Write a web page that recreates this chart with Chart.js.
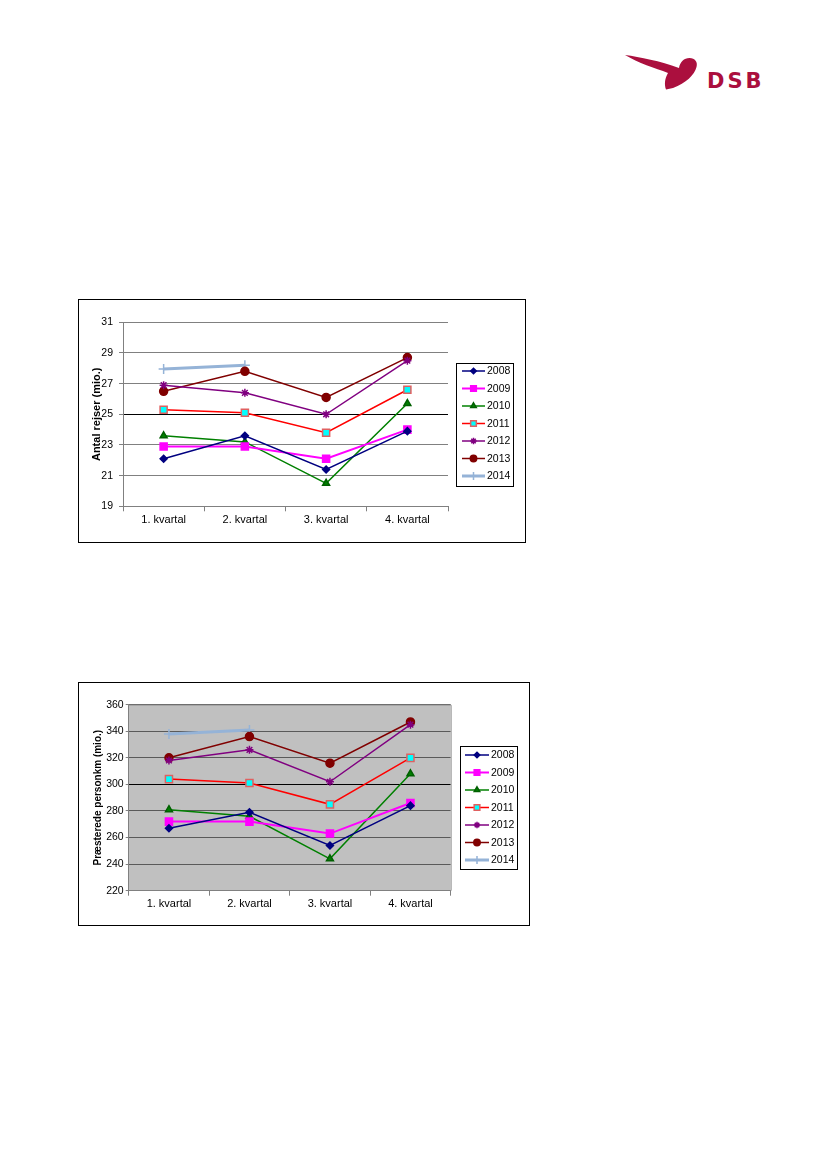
<!DOCTYPE html>
<html>
<head>
<meta charset="utf-8">
<script src="https://cdn.jsdelivr.net/npm/chart.js@4/dist/chart.umd.min.js"></script>
<style>
  body { margin: 0; background: #fff; }
  .page { position: relative; width: 827px; height: 1170px; overflow: hidden; }
  .box { position: absolute; border: 1px solid #000; box-sizing: border-box; background: #fff; }
  .logo-text { position: absolute; left: 707px; top: 69px; font: bold 21px "DejaVu Sans"; letter-spacing: 3px; color: #ab0f3e; }
</style>
</head>
<body>
<div class="page">
  <svg width="827" height="120" style="position:absolute;left:0;top:0">
    <path d="M625,55 C640,57 660,61 679,68 C680,62 684,58 689.5,58 C695,58 698,62 696.5,67 C694.5,75 686,83 673,88 L666,89.5 C664,84 665,78 668,73 C655,68 638,63 625,55 Z" fill="#ab0f3e"/>
  </svg>
  <div class="logo-text">DSB</div>

  <div class="box" style="left:78px;top:299px;width:448px;height:244px">
    <canvas id="rejserChart"></canvas>
  </div>
  <div class="box" style="left:78px;top:682px;width:452px;height:244px">
    <canvas id="personkmChart"></canvas>
  </div>
</div>

<script>
  // Kategorier og år
  const quarters = ['1. kvartal', '2. kvartal', '3. kvartal', '4. kvartal'];
  const years = ['2008', '2009', '2010', '2011', '2012', '2013', '2014'];

  // Antal rejser (mio.)
  const rejser2008 = [22.1, 23.6, 21.4, 23.9];
  const rejser2009 = [22.9, 22.9, 22.1, 24.0];
  const rejser2010 = [23.6, 23.2, 20.5, 25.7];
  const rejser2011 = [25.3, 25.1, 23.8, 26.6];
  const rejser2012 = [26.9, 26.4, 25.0, 28.5];
  const rejser2013 = [26.5, 27.8, 26.1, 28.7];
  const rejser2014 = [27.95, 28.2, null, null];
  const rejserTicks = [19, 21, 23, 25, 27, 29, 31];

  // Præsterede personkm (mio.)
  const pkm2008 = [267, 279, 254, 284];
  const pkm2009 = [272, 272, 263, 286];
  const pkm2010 = [281, 276, 244, 308];
  const pkm2011 = [304, 301, 285, 320];
  const pkm2012 = [318, 326, 302, 345];
  const pkm2013 = [320, 336, 316, 347];
  const pkm2014 = [338, 341, null, null];
  const pkmTicks = [220, 240, 260, 280, 300, 320, 340, 360];

  // Udseende pr. år
  const looks = [
    { line: '#000080', fill: '#000080', edge: '#000080', style: 'rectRot', r: 3.5, w: 1.5 },
    { line: '#ff00ff', fill: '#ff00ff', edge: '#ff00ff', style: 'rect', r: 5, w: 2 },
    { line: '#008000', fill: '#008000', edge: '#006000', style: 'triangle', r: 4, w: 1.5 },
    { line: '#ff0000', fill: '#00ffff', edge: '#e06060', style: 'rect', r: 5, w: 1.5 },
    { line: '#800080', fill: '#800080', edge: '#800080', style: 'star', r: 4, w: 1.5 },
    { line: '#800000', fill: '#800000', edge: '#800000', style: 'circle', r: 4, w: 1.5 },
    { line: '#95b3d7', fill: '#95b3d7', edge: '#95b3d7', style: 'cross', r: 5, w: 3 }
  ];

  function makeDatasets(series) {
    return series.map((values, i) => ({
      label: years[i],
      data: values,
      borderColor: looks[i].line,
      borderWidth: looks[i].w,
      pointStyle: looks[i].style,
      pointRadius: looks[i].r,
      pointBackgroundColor: looks[i].fill,
      pointBorderColor: looks[i].edge,
      pointBorderWidth: 1.5,
      tension: 0,
      fill: false
    }));
  }

  // Legende med ramme, streg og markør
  const boxLegend = {
    id: 'boxLegend',
    afterDraw(chart, args, o) {
      const ctx = chart.ctx;
      ctx.save();
      ctx.strokeStyle = '#000';
      ctx.lineWidth = 1;
      ctx.strokeRect(o.left + 0.5, o.top + 0.5, o.width, o.height);
      ctx.font = '10.5px "Liberation Sans"';
      ctx.textBaseline = 'middle';
      chart.data.datasets.forEach((ds, i) => {
        const y = o.firstRow + i * o.rowStep;
        ctx.strokeStyle = ds.borderColor;
        ctx.lineWidth = ds.borderWidth;
        ctx.beginPath();
        ctx.moveTo(o.lineFrom, y);
        ctx.lineTo(o.lineTo, y);
        ctx.stroke();
        ctx.fillStyle = ds.pointBackgroundColor;
        ctx.strokeStyle = ds.pointBorderColor;
        ctx.lineWidth = ds.pointBorderWidth;
        Chart.helpers.drawPoint(ctx, {
          pointStyle: ds.pointStyle, radius: ds.pointRadius * 0.8,
          borderWidth: ds.pointBorderWidth, rotation: 0
        }, (o.lineFrom + o.lineTo) / 2, y);
        ctx.fillStyle = '#000';
        ctx.fillText(ds.label, o.textX, y + 0.5);
      });
      ctx.restore();
    }
  };

  // Grå plotområde
  const plotBackground = {
    id: 'plotBackground',
    beforeDraw(chart, args, o) {
      if (!o.color) return;
      const a = chart.chartArea;
      chart.ctx.save();
      chart.ctx.fillStyle = o.color;
      chart.ctx.fillRect(a.left, a.top, a.right - a.left, a.bottom - a.top);
      chart.ctx.restore();
    },
    beforeDatasetsDraw(chart, args, o) {
      if (!o.frame) return;
      const a = chart.chartArea;
      const ctx = chart.ctx;
      ctx.save();
      ctx.strokeStyle = o.frame;
      ctx.lineWidth = 1;
      ctx.beginPath();
      ctx.moveTo(a.left, a.top + 0.5);
      ctx.lineTo(a.right + 0.5, a.top + 0.5);
      ctx.lineTo(a.right + 0.5, a.bottom);
      ctx.stroke();
      ctx.restore();
    }
  };

  function makeChart(id, series, ticks, title, geo) {
    const ctx = document.getElementById(id).getContext('2d');
    const lo = ticks[0], hi = ticks[ticks.length - 1];
    const mid = geo.strongLine;
    return new Chart(ctx, {
      type: 'line',
      data: { labels: quarters, datasets: makeDatasets(series) },
      plugins: [plotBackground, boxLegend],
      options: {
        responsive: true,
        maintainAspectRatio: false,
        animation: false,
        layout: { padding: { left: 0, top: geo.top, right: geo.right, bottom: 0 } },
        plugins: {
          legend: { display: false },
          tooltip: { enabled: false },
          plotBackground: { color: geo.plotColor, frame: geo.frame },
          boxLegend: geo.legend
        },
        scales: {
          x: {
            offset: true,
            afterFit: s => { s.height = geo.xHeight; },
            grid: { offset: true, drawOnChartArea: false, tickLength: 5, color: '#808080' },
            border: { color: '#808080' },
            ticks: { color: '#000', padding: 2, font: { family: 'Liberation Sans', size: 11 } }
          },
          y: {
            min: lo,
            max: hi,
            afterFit: s => { s.width = geo.yWidth; },
            afterBuildTicks: s => { s.ticks = ticks.map(v => ({ value: v })); },
            grid: {
              color: c => c.tick && c.tick.value === mid ? '#000' : geo.gridColor,
              tickColor: '#808080',
              tickLength: geo.tickLength
            },
            border: { color: '#808080' },
            ticks: { color: '#000', padding: geo.tickPad, font: { family: 'Liberation Sans', size: 10.5 } },
            title: {
              display: true,
              text: title,
              color: '#000',
              padding: { top: geo.titlePad, bottom: 0 },
              font: { family: 'Liberation Sans', size: geo.titleSize, weight: 'bold' }
            }
          }
        }
      }
    });
  }

  window.addEventListener('DOMContentLoaded', () => {
    // Graf antal rejser
    makeChart('rejserChart',
      [rejser2008, rejser2009, rejser2010, rejser2011, rejser2012, rejser2013, rejser2014],
      rejserTicks, 'Antal rejser (mio.)',
      {
        top: 22.3, right: 77, yWidth: 44, xHeight: 35.7, strongLine: 25,
        tickLength: 4, tickPad: 6, titleSize: 11, titlePad: 11,
        gridColor: '#808080', plotColor: null, frame: null,
        legend: { left: 377, top: 63, width: 57, height: 123, firstRow: 71, rowStep: 17.5,
                  lineFrom: 383, lineTo: 406, textX: 408 }
      });

    // Graf præsterede personkm
    makeChart('personkmChart',
      [pkm2008, pkm2009, pkm2010, pkm2011, pkm2012, pkm2013, pkm2014],
      pkmTicks, 'Præsterede personkm (mio.)',
      {
        top: 21.7, right: 78.3, yWidth: 49.7, xHeight: 34.3, strongLine: 300,
        tickLength: 3, tickPad: 2, titleSize: 10, titlePad: 13,
        gridColor: '#5a5a5a', plotColor: '#c0c0c0', frame: '#9a9a9a',
        legend: { left: 381, top: 63, width: 57, height: 123, firstRow: 72, rowStep: 17.5,
                  lineFrom: 386, lineTo: 410, textX: 412 }
      });
  });
</script>
</body>
</html>
